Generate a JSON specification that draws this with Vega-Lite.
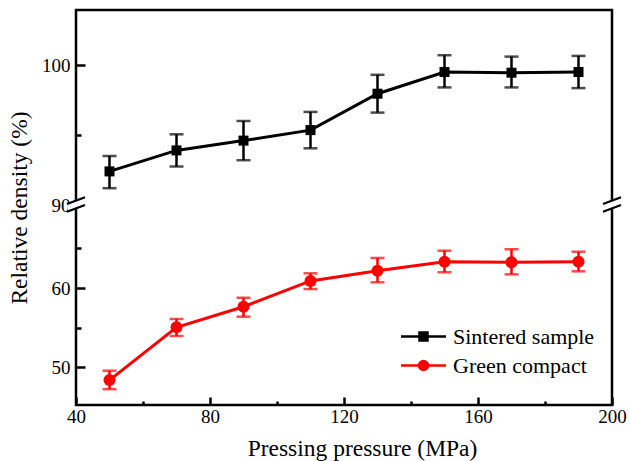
{
  "$schema": "https://vega.github.io/schema/vega-lite/v6.json",
  "width": 536,
  "height": 395,
  "autosize": "none",
  "padding": {"left": 76, "top": 10, "right": 18, "bottom": 56},
  "background": "white",
  "config": {
    "font": "'Liberation Serif', 'DejaVu Serif', serif",
    "view": {"stroke": "black", "strokeWidth": 2.5},
    "axis": {
      "domain": false,
      "grid": false,
      "labelFont": "'Liberation Serif', 'DejaVu Serif', serif",
      "labelFontSize": 19,
      "labelColor": "black",
      "tickColor": "black",
      "tickWidth": 2.5,
      "titleFont": "'Liberation Serif', 'DejaVu Serif', serif",
      "titleFontSize": 23.5,
      "titleFontWeight": "normal",
      "titleColor": "black"
    }
  },
  "data": {
    "values": [
      {"p": 50, "series": "Sintered sample", "v": 92.4, "lo": 91.2, "hi": 93.5},
      {"p": 70, "series": "Sintered sample", "v": 93.9, "lo": 92.75, "hi": 95.05},
      {"p": 90, "series": "Sintered sample", "v": 94.6, "lo": 93.2, "hi": 96.0},
      {"p": 110, "series": "Sintered sample", "v": 95.35, "lo": 94.05, "hi": 96.65},
      {"p": 130, "series": "Sintered sample", "v": 97.95, "lo": 96.6, "hi": 99.3},
      {"p": 150, "series": "Sintered sample", "v": 99.5, "lo": 98.4, "hi": 100.7},
      {"p": 170, "series": "Sintered sample", "v": 99.45, "lo": 98.4, "hi": 100.6},
      {"p": 190, "series": "Sintered sample", "v": 99.5, "lo": 98.35, "hi": 100.65},
      {"p": 50, "series": "Green compact", "v": 48.35, "lo": 47.2, "hi": 49.54},
      {"p": 70, "series": "Green compact", "v": 55.03, "lo": 53.93, "hi": 56.08},
      {"p": 90, "series": "Green compact", "v": 57.63, "lo": 56.37, "hi": 58.77},
      {"p": 110, "series": "Green compact", "v": 60.89, "lo": 59.87, "hi": 61.86},
      {"p": 130, "series": "Green compact", "v": 62.19, "lo": 60.72, "hi": 63.8},
      {"p": 150, "series": "Green compact", "v": 63.33, "lo": 61.99, "hi": 64.72},
      {"p": 170, "series": "Green compact", "v": 63.25, "lo": 61.73, "hi": 64.9},
      {"p": 190, "series": "Green compact", "v": 63.33, "lo": 62.11, "hi": 64.59}
    ]
  },
  "encoding": {
    "x": {
      "field": "p",
      "type": "quantitative",
      "scale": {"domain": [40, 200], "nice": false, "zero": false},
      "axis": {
        "title": "Pressing pressure (MPa)",
        "values": [40, 60, 80, 100, 120, 140, 160, 180, 200],
        "labelExpr": "datum.value % 40 === 0 ? datum.label : ''",
        "labelFlush": false,
        "tickSize": -8,
        "tickDash": {"condition": {"test": "datum.value % 40 !== 0", "value": [4, 60]}, "value": [60, 1]},
        "labelPadding": 10,
        "titleX": 286,
        "titleY": 50,
        "titleBaseline": "alphabetic",
        "titleAlign": "center"
      }
    },
    "y": {
      "field": "v",
      "type": "quantitative",
      "scale": {"domain": [45.2, 70.5, 90, 103.93], "range": [395, 195, 195, 0], "nice": false, "zero": false},
      "axis": {
        "title": "Relative density (%)",
        "values": [50, 55, 60, 65, 90, 95, 100],
        "labelExpr": "datum.value % 10 === 0 ? datum.label : ''",
        "labelFlush": false,
        "tickSize": -9,
        "tickDash": {"condition": {"test": "datum.value % 10 !== 0", "value": [5, 60]}, "value": [60, 1]},
        "tickOpacity": {"condition": {"test": "datum.value === 90", "value": 0}, "value": 1},
        "labelPadding": 15,
        "titleX": -50,
        "titleBaseline": "alphabetic"
      }
    }
  },
  "layer": [
    {
      "encoding": {
        "color": {
          "field": "series",
          "type": "nominal",
          "scale": {"domain": ["Sintered sample", "Green compact"], "range": ["#000000", "#ff0000"]},
          "legend": {
            "title": null,
            "orient": "none",
            "legendX": 336,
            "legendY": 315,
            "padding": 0,
            "labelFont": "'Liberation Serif', 'DejaVu Serif', serif",
            "labelFontSize": 22,
            "labelColor": "black",
            "labelOffset": 18,
            "symbolSize": 400,
            "symbolStrokeWidth": 2.5,
            "rowPadding": 6,
            "encode": {
              "symbols": {
                "update": {
                  "shape": {"signal": "datum.value === 'Sintered sample' ? 'M-2.25,0H2.25M-0.4,-0.4H0.4V0.4H-0.4Z' : 'M-2.25,0H2.25M0.45,0A0.45,0.45,0,1,1,-0.45,0A0.45,0.45,0,1,1,0.45,0Z'"},
                  "fill": {"signal": "datum.value === 'Sintered sample' ? '#000000' : '#ff0000'"},
                  "stroke": {"signal": "datum.value === 'Sintered sample' ? '#000000' : '#ff0000'"},
                  "strokeWidth": {"value": 2.5},
                  "opacity": {"value": 1}
                }
              }
            }
          }
        }
      },
      "layer": [
        {
          "mark": {"type": "rule", "strokeWidth": 2.5},
          "encoding": {"y": {"field": "lo", "type": "quantitative"}, "y2": {"field": "hi"}}
        },
        {
          "mark": {"type": "tick", "orient": "horizontal", "size": 14, "thickness": 2.5},
          "encoding": {"y": {"field": "lo", "type": "quantitative"}}
        },
        {
          "mark": {"type": "tick", "orient": "horizontal", "size": 14, "thickness": 2.5},
          "encoding": {"y": {"field": "hi", "type": "quantitative"}}
        },
        {
          "mark": {"type": "line", "strokeWidth": 3},
          "encoding": {"detail": {"field": "series"}}
        },
        {
          "transform": [{"filter": "datum.series === 'Sintered sample'"}],
          "mark": {"type": "point", "filled": true, "opacity": 1, "shape": "square", "size": 100}
        },
        {
          "transform": [{"filter": "datum.series === 'Green compact'"}],
          "mark": {"type": "point", "filled": true, "opacity": 1, "shape": "circle", "size": 144}
        }
      ]
    },
    {
      "transform": [{"filter": "datum.p === 50 && datum.series === 'Sintered sample'"}],
      "mark": {"type": "point", "filled": true, "opacity": 1, "color": "white", "size": 400, "shape": "M-0.8,-0.2L0.8,-0.8L0.8,0.05L-0.8,0.65Z"},
      "encoding": {"x": {"datum": 40, "type": "quantitative"}, "y": {"datum": 80, "type": "quantitative"}}
    },
    {
      "transform": [{"filter": "datum.p === 50 && datum.series === 'Sintered sample'"}],
      "mark": {"type": "point", "filled": true, "opacity": 1, "color": "white", "size": 400, "shape": "M-0.8,-0.2L0.8,-0.8L0.8,0.05L-0.8,0.65Z"},
      "encoding": {"x": {"datum": 200, "type": "quantitative"}, "y": {"datum": 80, "type": "quantitative"}}
    },
    {
      "transform": [{"filter": "datum.p === 50 && datum.series === 'Sintered sample'"}],
      "mark": {"type": "point", "filled": false, "opacity": 1, "color": "black", "strokeWidth": 2.2, "size": 400, "shape": "M-0.9,-0.1L0.9,-0.78M-0.9,0.68L0.9,0"},
      "encoding": {"x": {"datum": 40, "type": "quantitative"}, "y": {"datum": 80, "type": "quantitative"}}
    },
    {
      "transform": [{"filter": "datum.p === 50 && datum.series === 'Sintered sample'"}],
      "mark": {"type": "point", "filled": false, "opacity": 1, "color": "black", "strokeWidth": 2.2, "size": 400, "shape": "M-0.9,-0.1L0.9,-0.78M-0.9,0.68L0.9,0"},
      "encoding": {"x": {"datum": 200, "type": "quantitative"}, "y": {"datum": 80, "type": "quantitative"}}
    }
  ]
}
